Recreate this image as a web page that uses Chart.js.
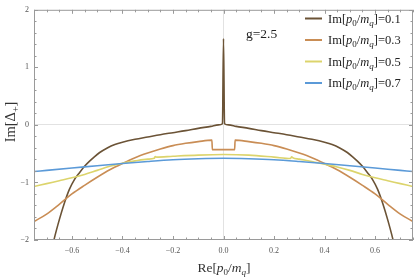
<!DOCTYPE html>
<html>
<head>
<meta charset="utf-8">
<script src="https://cdn.jsdelivr.net/npm/chart.js@4"></script>
<style>
  html, body { margin: 0; padding: 0; background: #fff; }
  #wrap { width: 415px; height: 277px; }
</style>
</head>
<body>
<div id="wrap"><canvas id="chart" width="415" height="277"></canvas></div>
<script>
// Im[p0/mq] = 0.1 (dark brown), with the spike at 0
const re01 = [-0.675, -0.67, -0.65, -0.63, -0.61, -0.59, -0.57, -0.55, -0.53, -0.51, -0.49, -0.46, -0.43, -0.4, -0.35, -0.3, -0.25, -0.2, -0.15, -0.1, -0.05, -0.02, -0.004, 0,
              0.004, 0.02, 0.05, 0.1, 0.15, 0.2, 0.25, 0.3, 0.35, 0.4, 0.43, 0.46, 0.49, 0.51, 0.53, 0.55, 0.57, 0.59, 0.61, 0.63, 0.65, 0.67, 0.675];
const im01 = [-2.08, -1.98, -1.65, -1.36, -1.12, -0.95, -0.83, -0.72, -0.63, -0.55, -0.48, -0.40, -0.34, -0.30, -0.25, -0.21, -0.17, -0.135, -0.10, -0.06, -0.025, 0.0, 0.02, 1.5,
              0.02, 0.0, -0.025, -0.06, -0.10, -0.135, -0.17, -0.21, -0.25, -0.30, -0.34, -0.40, -0.48, -0.55, -0.63, -0.72, -0.83, -0.95, -1.12, -1.36, -1.65, -1.98, -2.08];

// Im[p0/mq] = 0.3 (orange), flat dip between +-0.045
const re03 = [-0.75, -0.7, -0.65, -0.6, -0.55, -0.5, -0.45, -0.4, -0.35, -0.3, -0.25, -0.2, -0.15, -0.1, -0.046, -0.044, 0.044, 0.046,
              0.1, 0.15, 0.2, 0.25, 0.3, 0.35, 0.4, 0.45, 0.5, 0.55, 0.6, 0.65, 0.7, 0.75];
const im03 = [-1.68, -1.55, -1.38, -1.2, -1.05, -0.91, -0.78, -0.67, -0.57, -0.49, -0.42, -0.36, -0.32, -0.29, -0.265, -0.43, -0.43, -0.265,
              -0.29, -0.32, -0.36, -0.42, -0.49, -0.57, -0.67, -0.78, -0.91, -1.05, -1.2, -1.38, -1.55, -1.68];

// Im[p0/mq] = 0.5 (yellow), small kinks near +-0.27
const re05 = [-0.75, -0.7, -0.65, -0.6, -0.55, -0.5, -0.45, -0.4, -0.35, -0.3, -0.274, -0.27, -0.265, -0.2, -0.1, 0,
              0.1, 0.2, 0.265, 0.27, 0.274, 0.3, 0.35, 0.4, 0.45, 0.5, 0.55, 0.6, 0.65, 0.7, 0.75];
const im05 = [-1.07, -1.02, -0.97, -0.92, -0.86, -0.79, -0.72, -0.665, -0.625, -0.595, -0.58, -0.55, -0.56, -0.545, -0.525, -0.515,
              -0.525, -0.56, -0.585, -0.555, -0.57, -0.595, -0.635, -0.685, -0.73, -0.79, -0.86, -0.92, -0.97, -1.02, -1.07];

// Im[p0/mq] = 0.7 (blue)
const re07 = [-0.75, -0.7, -0.6, -0.5, -0.4, -0.3, -0.2, -0.1, 0, 0.1, 0.2, 0.3, 0.4, 0.5, 0.6, 0.7, 0.75];
const im07 = [-0.81, -0.79, -0.75, -0.71, -0.67, -0.635, -0.605, -0.588, -0.58, -0.588, -0.605, -0.635, -0.67, -0.71, -0.75, -0.79, -0.81];

const legendValues = ["0.1", "0.3", "0.5", "0.7"];
const colors = ["#6b5336", "#c98d55", "#dcd46c", "#5b9ad8"];
const xTicks = [-0.6, -0.4, -0.2, 0, 0.2, 0.4, 0.6];
const yTicks = [-2, -1, 0, 1, 2];

function pts(xs, ys) { return xs.map((x, i) => ({ x: x, y: ys[i] })); }
const allRe = [re01, re03, re05, re07];
const allIm = [im01, im03, im05, im07];

const serif = "'Liberation Serif', 'DejaVu Serif', serif";

// draw a run of text pieces with their own fonts and offsets
function drawRich(ctx, parts, x, y, align) {
  let w = 0;
  parts.forEach(p => { ctx.font = p.f; w += ctx.measureText(p.t).width; });
  let cx = align === "center" ? x - w / 2 : x;
  ctx.textAlign = "left";
  ctx.textBaseline = "alphabetic";
  parts.forEach(p => {
    ctx.font = p.f;
    ctx.fillText(p.t, cx, y + (p.dy || 0));
    cx += ctx.measureText(p.t).width;
  });
}

function pmq(size, pre, post) {
  const sub = Math.round(size * 0.68) + "px " + serif;
  return [
    { t: pre, f: size + "px " + serif },
    { t: "p", f: "italic " + size + "px " + serif },
    { t: "0", f: sub, dy: size * 0.25 },
    { t: "/", f: size + "px " + serif },
    { t: "m", f: "italic " + size + "px " + serif },
    { t: "q", f: "italic " + sub, dy: size * 0.25 },
    { t: post, f: size + "px " + serif }
  ];
}

const framePlugin = {
  id: "frame",
  afterDraw(chart) {
    const ctx = chart.ctx;
    const a = chart.chartArea;
    const xs = chart.scales.x, ys = chart.scales.y;
    ctx.save();
    ctx.strokeStyle = "#9a9a9a";
    ctx.lineWidth = 1;
    ctx.strokeRect(a.left + 0.5, a.top + 0.5, a.right - a.left - 1, a.bottom - a.top - 1);
    ctx.beginPath();
    for (let i = -15; i <= 15; i++) {
      const v = i * 0.05;
      const px = Math.round(xs.getPixelForValue(v)) + 0.5;
      const len = (i % 4 === 0) ? 4 : 2.5;
      ctx.moveTo(px, a.bottom); ctx.lineTo(px, a.bottom - len);
      ctx.moveTo(px, a.top); ctx.lineTo(px, a.top + len);
    }
    for (let i = -10; i <= 10; i++) {
      const v = i * 0.2;
      const py = Math.round(ys.getPixelForValue(v)) + 0.5;
      const len = (i % 5 === 0) ? 4 : 2.5;
      ctx.moveTo(a.left, py); ctx.lineTo(a.left + len, py);
      ctx.moveTo(a.right, py); ctx.lineTo(a.right - len, py);
    }
    ctx.stroke();

    // legend
    ctx.fillStyle = "#222";
    legendValues.forEach((v, i) => {
      const y = 18.5 + i * 21.5;
      ctx.strokeStyle = colors[i];
      ctx.lineWidth = 2;
      ctx.beginPath(); ctx.moveTo(305, y); ctx.lineTo(322, y); ctx.stroke();
      drawRich(ctx, pmq(12.5, "Im[", "]=" + v), 328, y + 4, "left");
    });

    // annotation
    ctx.font = "13.5px " + serif;
    ctx.fillText("g=2.5", 246, 38);

    // axis titles
    ctx.fillStyle = "#333";
    drawRich(ctx, pmq(13.5, "Re[", "]"), 224, 272, "center");
    ctx.translate(15, 122);
    ctx.rotate(-Math.PI / 2);
    drawRich(ctx, [
      { t: "Im[Δ", f: "14.5px " + serif },
      { t: "+", f: "10px " + serif, dy: 3.5 },
      { t: "]", f: "14.5px " + serif }
    ], 0, 0, "center");
    ctx.restore();
  }
};

const datasets = allRe.map((xs, i) => ({
  label: "Im[p0/mq]=" + legendValues[i],
  data: pts(xs, allIm[i]),
  showLine: true,
  borderColor: colors[i],
  borderWidth: 1.6,
  pointRadius: 0,
  cubicInterpolationMode: "monotone",
  fill: false
})).reverse();

new Chart(document.getElementById("chart"), {
  type: "scatter",
  data: { datasets: datasets },
  options: {
    responsive: false,
    animation: false,
    layout: { padding: { top: 5, right: 2, left: 0, bottom: 0 } },
    plugins: { legend: { display: false }, tooltip: { enabled: false } },
    scales: {
      x: {
        type: "linear", min: -0.75, max: 0.75,
        afterBuildTicks: s => { s.ticks = xTicks.map(v => ({ value: v })); },
        afterFit: s => { s.height = 37; },
        grid: { drawTicks: false, color: c => (c.tick && c.tick.value === 0) ? "#e2e2e2" : "rgba(0,0,0,0)" },
        border: { display: false },
        ticks: {
          padding: 6, color: "#555", font: { family: serif, size: 8 },
          callback: v => (v < 0 ? "\u2212" : "") + Math.abs(v).toFixed(1)
        }
      },
      y: {
        type: "linear", min: -2, max: 2,
        afterBuildTicks: s => { s.ticks = yTicks.map(v => ({ value: v })); },
        afterFit: s => { s.width = 34; },
        grid: { drawTicks: false, color: c => (c.tick && c.tick.value === 0) ? "#e2e2e2" : "rgba(0,0,0,0)" },
        border: { display: false },
        ticks: {
          padding: 5, color: "#555", font: { family: serif, size: 8 },
          callback: v => (v < 0 ? "\u2212" : "") + Math.abs(v)
        }
      }
    }
  },
  plugins: [framePlugin]
});
</script>
</body>
</html>
